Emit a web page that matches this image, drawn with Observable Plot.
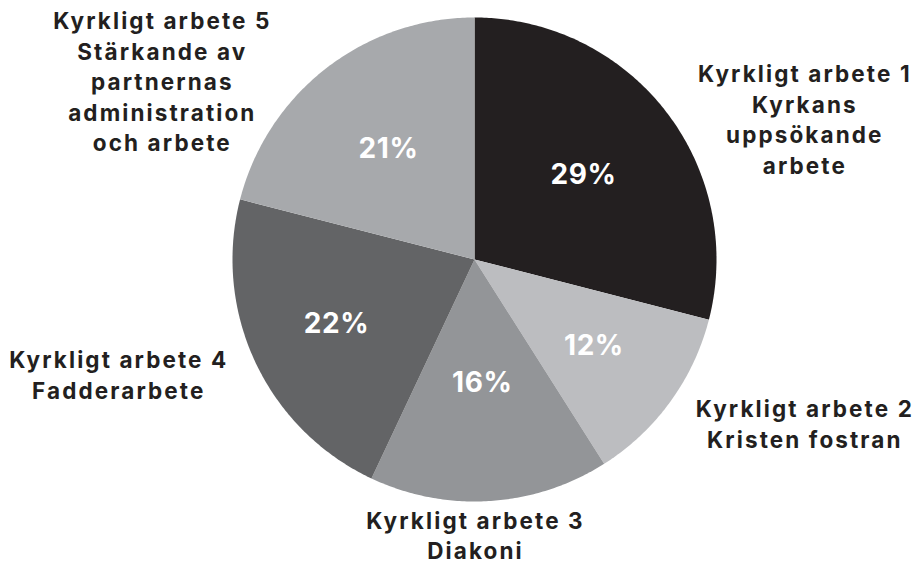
<!DOCTYPE html>
<html>
<head>
<meta charset="utf-8">
<script src="https://cdn.jsdelivr.net/npm/d3@7"></script>
<script src="https://cdn.jsdelivr.net/npm/@observablehq/plot@0.6"></script>
<style>
  html, body { margin: 0; padding: 0; background: #fff; }
  #chart svg { display: block; }
  #chart svg g.outer text { letter-spacing: 2.1px; }
  #chart svg g.pct text { letter-spacing: 0.6px; }
</style>
</head>
<body>
<div id="chart"></div>
<script>
// ---- data ----
const categories = [
  "Kyrkligt arbete 1\nKyrkans\nuppsökande\narbete",
  "Kyrkligt arbete 2\nKristen fostran",
  "Kyrkligt arbete 3\nDiakoni",
  "Kyrkligt arbete 4\nFadderarbete",
  "Kyrkligt arbete 5\nStärkande av\npartnernas\nadministration\noch arbete"
];
const shares = [29, 12, 16, 22, 21];

// ---- styles / layout (kept separate from data) ----
const colors = ["#231f20", "#bcbdc0", "#939598", "#636466", "#a7a9ac"];
const pctRadius = [0.57, 0.61, 0.51, 0.63, 0.58];
const outerPos = [[1.365, 0.583], [1.365, -0.674], [0.004, -1.136], [-1.47, -0.471], [-1.29, 0.74]];
const FONT = "Inter, 'Open Sans', sans-serif";

const pie = d3.pie().sort(null).value(d => d)(shares);

const rows = [];
pie.forEach((p, i) => {
  const cat = categories[i];
  rows.push({cat, x: 0, y: 0});
  const n = Math.max(8, Math.ceil((p.endAngle - p.startAngle) / 0.01));
  for (let k = 0; k <= n; k++) {
    const a = p.startAngle + (p.endAngle - p.startAngle) * k / n;
    rows.push({cat, x: Math.sin(a), y: Math.cos(a)});
  }
});

const pctLabels = pie.map((p, i) => {
  const a = (p.startAngle + p.endAngle) / 2;
  return {text: `${shares[i]}%`, x: pctRadius[i] * Math.sin(a), y: pctRadius[i] * Math.cos(a)};
});
const outerLabels = categories.map((c, i) => ({text: c, x: outerPos[i][0], y: outerPos[i][1]}));

const chart = Plot.plot({
  width: 918,
  height: 584,
  marginLeft: 232,
  marginRight: 202,
  marginTop: 17,
  marginBottom: 83,
  x: {domain: [-1, 1], axis: null},
  y: {domain: [-1, 1], axis: null},
  color: {domain: categories, range: colors},
  style: {background: "#fff", overflow: "visible"},
  marks: [
    Plot.line(rows, {x: "x", y: "y", z: "cat", fill: "cat", stroke: "none", curve: "linear-closed"}),
    Plot.text(pctLabels, {x: "x", y: "y", text: "text", fill: "#fff", fontSize: 28, fontWeight: 700, fontFamily: FONT, className: "pct"}),
    Plot.text(outerLabels, {x: "x", y: "y", text: "text", fill: "#231f20", fontSize: 22.5, fontWeight: 700, fontFamily: FONT, lineHeight: 1.36, lineAnchor: "middle", textAnchor: "middle", className: "outer"})
  ]
});
document.getElementById("chart").appendChild(chart);
</script>
</body>
</html>
